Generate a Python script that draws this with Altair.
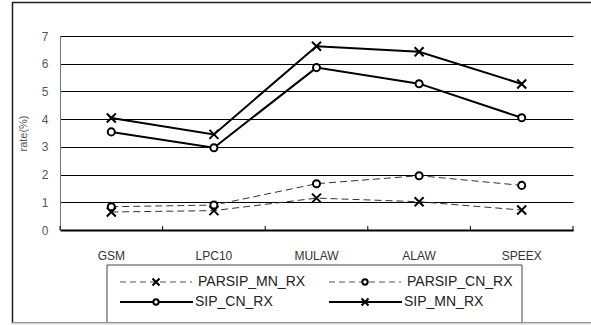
import altair as alt
import pandas as pd

categories = ["GSM", "LPC10", "MULAW", "ALAW", "SPEEX"]
series_names = ["PARSIP_MN_RX", "PARSIP_CN_RX", "SIP_CN_RX", "SIP_MN_RX"]
parsip_mn_rx = [0.65, 0.70, 1.15, 1.02, 0.72]
parsip_cn_rx = [0.84, 0.90, 1.67, 1.96, 1.61]
sip_cn_rx = [3.54, 2.97, 5.86, 5.28, 4.05]
sip_mn_rx = [4.04, 3.45, 6.63, 6.43, 5.27]
y_ticks = [0, 1, 2, 3, 4, 5, 6, 7]

series_values = [parsip_mn_rx, parsip_cn_rx, sip_cn_rx, sip_mn_rx]
series_style = ["dashed", "dashed", "solid", "solid"]
series_marker = ["x", "o", "o", "x"]

rows = []
for name, vals, sty, mk in zip(series_names, series_values, series_style, series_marker):
    for c, v in zip(categories, vals):
        rows.append({"series": name, "category": c, "value": v, "style": sty, "marker": mk})
df = pd.DataFrame(rows)

legend_df = pd.DataFrame({
    "series": series_names,
    "col": [0, 1, 0, 1],
    "row": [0, 0, 1, 1],
    "style": series_style,
    "marker": series_marker,
})
cat_df = pd.DataFrame({"category": categories})

XPATH = "M-1,-1L1,1M1,-1L-1,1"
FONT = "Liberation Sans"
W, H = 513, 194

xscale = alt.Scale(type="band", domain=categories, paddingInner=0, paddingOuter=0)
x_axis = alt.Axis(title=None, grid=False, ticks=False, domainColor="black", domainWidth=2,
                  labelAngle=0, labelColor="#333", labelFontSize=12, labelPadding=20,
                  labelFont=FONT)
x_enc = alt.X("category:N", sort=categories, scale=xscale, bandPosition=0.5, axis=x_axis)
y_enc = alt.Y("value:Q", scale=alt.Scale(domain=[0, 7], nice=False, zero=True),
              axis=alt.Axis(values=y_ticks, title="rate(%)", grid=True, gridColor="black",
                            gridWidth=1, gridOpacity=1, ticks=False, domainColor="#777",
                            domainWidth=1, labelColor="#555", labelFontSize=12, labelPadding=12,
                            labelFont=FONT, titleFont=FONT, titleFontSize=11,
                            titleFontWeight="normal", titleColor="#555", titlePadding=13))

base = alt.Chart(df)
dashed = base.transform_filter("datum.style == 'dashed'").mark_line(
    color="#333", strokeWidth=1, strokeDash=[7, 4]).encode(x=x_enc, y=y_enc, detail="series:N")
solid = base.transform_filter("datum.style == 'solid'").mark_line(
    color="black", strokeWidth=2).encode(x=x_enc, y=y_enc, detail="series:N")
pts_x = base.transform_filter("datum.marker == 'x'").mark_point(
    shape=XPATH, size=81, filled=False, stroke="black", strokeWidth=2, opacity=1).encode(x=x_enc, y=y_enc)
pts_o = base.transform_filter("datum.marker == 'o'").mark_point(
    shape="circle", size=50, filled=True, fill="white", stroke="black", strokeWidth=2, opacity=1
).encode(x=x_enc, y=y_enc)

ticks_l = alt.Chart(cat_df).mark_rule(color="black", strokeWidth=1).encode(
    x=alt.X("category:N", sort=categories, scale=xscale, bandPosition=0, axis=x_axis),
    y=alt.value(H), y2=alt.value(H - 4))
ticks_r = alt.Chart(cat_df).transform_filter("datum.category == 'SPEEX'").mark_rule(
    color="black", strokeWidth=1).encode(
    x=alt.X("category:N", sort=categories, scale=xscale, bandPosition=1, axis=x_axis),
    y=alt.value(H), y2=alt.value(H - 4))

main = alt.layer(dashed, solid, pts_x, pts_o, ticks_l, ticks_r)

# legend
lx = alt.X("col:Q", scale=alt.Scale(domain=[0, 1], range=[96, 305]), axis=None)
ly = alt.Y("row:Q", scale=alt.Scale(domain=[0, 1], range=[246, 266]), axis=None)
lbase = alt.Chart(legend_df)
leg_dash = lbase.transform_filter("datum.style == 'dashed'").mark_rule(
    color="#555", strokeWidth=1, strokeDash=[6, 4], xOffset=-36, x2Offset=36).encode(
    x=lx, x2="col:Q", y=ly)
leg_solid = lbase.transform_filter("datum.style == 'solid'").mark_rule(
    color="black", strokeWidth=2, xOffset=-36, x2Offset=37).encode(x=lx, x2="col:Q", y=ly)
leg_px = lbase.transform_filter("datum.marker == 'x'").mark_point(
    shape=XPATH, size=49, filled=False, stroke="black", strokeWidth=2, opacity=1).encode(x=lx, y=ly)
leg_po = lbase.transform_filter("datum.marker == 'o'").mark_point(
    shape="circle", size=28, filled=True, fill="white", stroke="black", strokeWidth=2, opacity=1
).encode(x=lx, y=ly)
leg_txt_d = lbase.transform_filter("datum.style == 'dashed'").mark_text(
    align="left", baseline="middle", dx=42, fontSize=14, font=FONT, color="#222").encode(
    x=lx, y=ly, text="series:N")
leg_txt_s = lbase.transform_filter("datum.style == 'solid'").mark_text(
    align="left", baseline="middle", dx=39, fontSize=14, font=FONT, color="#222").encode(
    x=lx, y=ly, text="series:N")
leg_box = alt.Chart(cat_df.head(1)).mark_rect(
    fill="transparent", stroke="#444", strokeWidth=1).encode(
    x=alt.value(47), x2=alt.value(462), y=alt.value(229), y2=alt.value(287))
frame = alt.Chart(cat_df.head(1)).mark_rect(
    fill="transparent", stroke="#222", strokeWidth=1.5).encode(
    x=alt.value(-47.5), x2=alt.value(560), y=alt.value(-33.5), y2=alt.value(287))
bottom_line = alt.Chart(cat_df.head(1)).mark_rule(color="#d4d4d4", strokeWidth=2).encode(
    x=alt.value(-48), x2=alt.value(531), y=alt.value(287.5))

legend = alt.layer(leg_box, leg_dash, leg_solid, leg_px, leg_po, leg_txt_d, leg_txt_s)

chart = alt.layer(frame, main, legend, bottom_line).resolve_scale(
    x="independent", y="independent").properties(
    width=W, height=H,
    autosize=alt.AutoSizeParams(type="none"),
    padding={"left": 60, "top": 36, "right": 18, "bottom": 95},
    background="white",
).configure_view(stroke="transparent")

chart.save("out.html", embed_options={"renderer": "svg", "actions": False})
